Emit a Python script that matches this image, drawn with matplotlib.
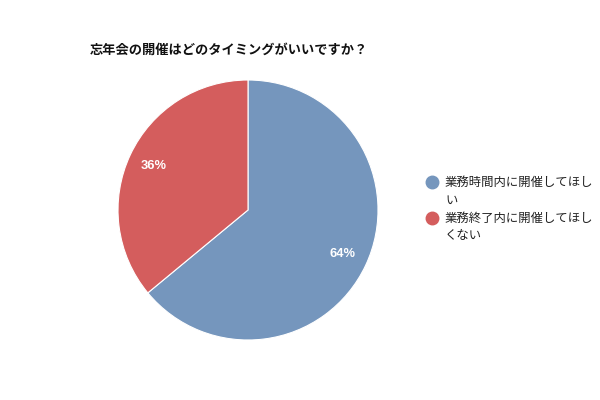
import matplotlib
matplotlib.use("Agg")
import matplotlib.pyplot as plt
from matplotlib.lines import Line2D

plt.rcParams['font.family'] = ['Noto Sans CJK JP', 'DejaVu Sans']

title = "忘年会の開催はどのタイミングがいいですか？"
categories = ["業務時間内に開催してほしい", "業務終了内に開催してほしくない"]
values = [64, 36]
colors = ["#7596BD", "#D45D5D"]

W, H = 600, 400
fig = plt.figure(figsize=(6, 4), dpi=100)
fig.patch.set_facecolor("white")

cx, cy, r = 248, 210, 130
ax = fig.add_axes([(cx - r) / W, (H - cy - r) / H, 2 * r / W, 2 * r / H])
wedges, texts, autotexts = ax.pie(
    values, colors=colors, startangle=90, counterclock=False,
    autopct=lambda p: f"{p:.0f}%", pctdistance=0.8,
    wedgeprops=dict(edgecolor="white", linewidth=0.8),
    textprops=dict(color="white", fontsize=9.3, fontweight="bold",
                   family=["Liberation Sans", "DejaVu Sans"]))
ax.set_xlim(-1, 1)
ax.set_ylim(-1, 1)
ax.set_aspect("equal")
ax.axis("off")

fig.text(90 / W, 1 - 50 / H, title, fontsize=9.5, fontweight="bold",
         ha="left", va="center", color="#111111")

# legend
def wrap(s, n=12):
    return [s[i:i + n] for i in range(0, len(s), n)]

y = 182
for lab, col in zip(categories, colors):
    fig.add_artist(Line2D([432 / W], [1 - y / H], marker="o", markersize=9,
                          color=col, linestyle="none", transform=fig.transFigure))
    for line in wrap(lab):
        fig.text(445 / W, 1 - y / H, line, fontsize=8.9, ha="left",
                 va="center", color="#222222")
        y += 18

fig.savefig("out.png", dpi=100)
